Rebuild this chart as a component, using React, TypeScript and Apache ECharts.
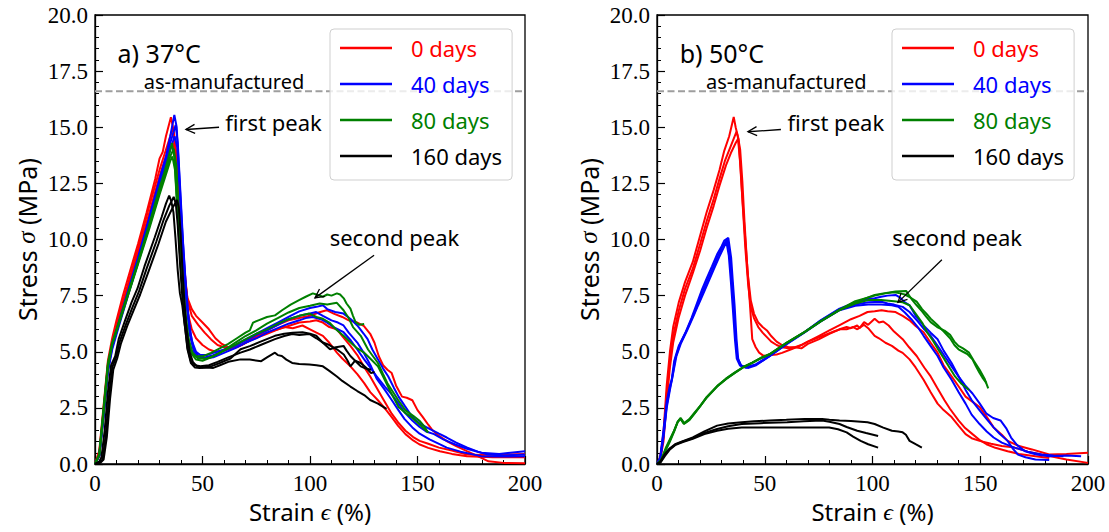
import React, { useEffect, useRef } from "react";
import * as echarts from "echarts";

// ---------- data ----------
const GROUPS = ["0 days", "40 days", "80 days", "160 days"];
const GROUP_COLORS = ["#ff0000", "#0000ff", "#008000", "#000000"];
const PANEL_LABELS = ["a) 37°C", "b) 50°C"];
const AS_MANUFACTURED = 16.6;
const X_MIN = 0;
const X_MAX = 200;
const X_INTERVAL = 50;
const Y_MIN = 0;
const Y_MAX = 20;
const Y_INTERVAL = 2.5;

// 37 °C panel
const RED_37_A = [[0,0],[2,0.6],[4,2.6],[6,4.6],[8,5.6],[10,6.4],[13,7.5],[16,8.5],[20,9.8],[24,11.2],[28,12.7],[30,13.6],[31.5,13.9],[33,14.6],[35.3,15.45],[36.5,14.9],[37.5,13.5],[39,11.2],[41,8.9],[43,7.4],[45,6.9],[47,6.6],[50,6.3],[53,6.0],[56,5.6],[59,5.35],[62,5.2],[66,5.2],[70,5.4],[75,5.7],[80,5.95],[85,6.2],[90,6.4],[95,6.5],[100,6.6],[104,6.75],[107.7,6.85],[111,6.7],[115,6.55],[118,6.4],[122,6.3],[125,6.15],[128,5.8],[130,5.4],[132,4.8],[134,4.4],[136,4.2],[138,4.05],[140,3.5],[142.8,3.0],[145,2.95],[147.6,2.84],[150,2.4],[152.4,2.1],[155,1.75],[157,1.5],[160,1.25],[164,1.0],[168,0.8],[173,0.57],[178,0.35],[183,0.12],[190,0.05],[200,0.03]];
const RED_37_B = [[0,0],[2,0.5],[4,2.4],[6,4.4],[8,5.4],[11,6.6],[15,7.9],[20,9.6],[25,11.4],[30,13.1],[33,14.0],[35,14.6],[36.3,15.0],[37.5,14.2],[39,12.0],[41,9.3],[43,7.3],[45,6.6],[48,6.2],[51,5.85],[54,5.55],[57,5.3],[60,5.2],[64,5.2],[68,5.3],[72,5.5],[76,5.7],[80,5.85],[85,6.0],[90,6.15],[95,6.3],[100,6.35],[102.9,6.4],[106,6.3],[109,6.1],[112.5,6.0],[115,5.7],[118.8,5.26],[122,4.85],[125,4.35],[128,3.9],[131.6,3.3],[134,2.9],[138,2.24],[141,1.85],[144.4,1.48],[148,1.2],[151,1.03],[155,0.9],[160,0.73],[166,0.6],[173,0.42],[180,0.4],[190,0.42],[200,0.45]];
const RED_37_C = [[0,0],[2,0.4],[4,2.2],[6,4.2],[8,5.3],[11,6.4],[15,7.7],[20,9.4],[25,11.1],[30,12.8],[33,13.7],[35,14.1],[36.5,14.3],[37.5,13.6],[39,11.5],[41,8.8],[43,6.8],[45,6.0],[47,5.6],[50,5.3],[53,5.1],[56,5.0],[60,5.05],[64,5.15],[68,5.3],[72,5.5],[76,5.65],[80,5.8],[84,5.95],[88,6.1],[92,6.05],[96.5,6.17],[100,6.0],[103,5.85],[106,5.71],[109,5.4],[112.5,4.96],[115,4.7],[118.8,4.35],[122,4.0],[125.2,3.6],[128,3.2],[131.6,2.84],[135,2.45],[138,2.09],[141,1.7],[144.4,1.33],[148,1.05],[150.8,0.88],[155,0.72],[160.4,0.57],[166,0.45],[173,0.35],[185,0.3],[200,0.3]];
const BLUE_37_A = [[0,0],[2,0.4],[4,2.3],[6,4.3],[8,5.3],[11,6.3],[15,7.6],[20,9.2],[25,10.9],[30,12.7],[33,13.7],[35,14.6],[36.9,15.55],[38,15.0],[39,13.2],[40.5,10.5],[42,8.2],[43.5,6.5],[45,5.5],[47,5.0],[49,4.85],[52,4.85],[55,4.95],[60,5.1],[65,5.3],[70,5.55],[75,5.8],[80,6.05],[85,6.3],[90,6.55],[95,6.8],[100,6.95],[103,7.0],[106,7.07],[108,6.9],[111.7,6.77],[115.6,6.7],[119,6.45],[122,6.17],[125,5.8],[126.8,5.56],[129,5.1],[131.6,4.66],[134,4.25],[136.4,3.9],[139,3.4],[141.2,3.0],[144,2.6],[147.6,2.09],[151,1.8],[155.6,1.56],[160,1.35],[163.6,1.18],[168,0.95],[173.2,0.73],[178,0.55],[182.7,0.42],[190,0.38],[200,0.42]];
const BLUE_37_B = [[0,0],[2,0.35],[4,2.2],[6,4.2],[8,5.2],[11,6.2],[15,7.5],[20,9.1],[25,10.8],[30,12.5],[33,13.5],[35,14.3],[37.5,15.1],[38.5,14.3],[39.5,12.5],[41,9.8],[42.5,7.6],[44,6.0],[46,5.1],[48,4.8],[51,4.75],[55,4.85],[60,5.05],[65,5.25],[70,5.5],[75,5.75],[80,5.95],[85,6.2],[90,6.45],[95,6.6],[100,6.7],[102.9,6.77],[106,6.6],[110,6.4],[113,6.3],[115.6,6.17],[118,5.85],[122,5.41],[125,4.95],[128.4,4.35],[131,3.8],[134.8,3.3],[138,2.85],[141.2,2.39],[144,2.0],[147.6,1.63],[151,1.35],[155.6,1.1],[160,0.9],[163.6,0.73],[170,0.55],[179.6,0.35],[190,0.33],[200,0.35]];
const BLUE_37_C = [[0,0],[2,0.35],[4,2.1],[6,4.1],[8,5.1],[11,6.1],[15,7.4],[20,9.0],[25,10.6],[30,12.3],[33,13.3],[35,14.0],[37,14.6],[38.3,14.1],[39.5,12.0],[41,9.3],[42.5,7.2],[44,5.8],[46,5.0],[48,4.75],[51,4.7],[55,4.75],[60,4.95],[65,5.15],[70,5.4],[75,5.6],[80,5.85],[85,6.05],[90,6.25],[95,6.4],[98,6.5],[101.3,6.55],[105,6.45],[108,6.3],[111,6.1],[115.6,5.87],[119,5.5],[122,5.1],[125.2,4.66],[128,4.3],[131,3.9],[134.8,3.45],[138,3.1],[141.2,2.69],[144,2.3],[147.6,1.94],[151,1.65],[154,1.45],[157.7,1.33],[162,1.1],[167.3,0.88],[173,0.68],[179.6,0.5],[188,0.45],[200,0.57]];
const GREEN_37_A = [[0,0],[2,0.45],[4,2.5],[6,4.5],[8,5.4],[11,6.3],[15,7.5],[20,9.0],[25,10.6],[30,12.3],[32,12.9],[34,13.6],[35.8,14.3],[37,13.6],[38.2,11.6],[39.5,9.4],[40.6,7.8],[42,6.5],[43,5.6],[45,5.0],[47,4.8],[50.2,4.8],[54,4.95],[58,5.15],[62,5.35],[66,5.6],[70,5.85],[72,5.95],[73.5,6.3],[76,6.4],[80,6.55],[83.7,6.62],[87,6.85],[91,7.1],[94.9,7.3],[98,7.45],[101.3,7.6],[103,7.55],[106,7.45],[108,7.55],[110,7.5],[112.5,7.6],[114,7.55],[115.7,7.38],[117,7.15],[118.8,6.92],[120,6.6],[121.2,6.32],[123,6.2],[125.2,6.24]];
const GREEN_37_B = [[0,0],[2,0.4],[4,2.3],[6,4.3],[8,5.3],[11,6.2],[15,7.4],[20,8.9],[25,10.4],[30,12.0],[33,12.9],[35,13.5],[36,13.7],[37.2,13.1],[38.5,11.0],[40,8.6],[41.5,6.8],[43,5.6],[45,4.9],[47,4.65],[50,4.6],[54,4.75],[58,4.95],[62,5.2],[66,5.45],[70,5.7],[75,5.95],[80,6.25],[85,6.5],[90,6.75],[95,6.95],[100,7.05],[104.5,7.15],[108,7.1],[112.5,7.18],[115.6,6.85],[118,6.5],[120,6.1],[123.6,5.71],[127,5.1],[131.6,4.5],[134,4.0],[136,3.6],[138,3.3],[141,2.85],[144.4,2.39],[148,2.15],[150.8,1.94],[153,1.7],[154.8,1.41]];
const GREEN_37_C = [[0,0],[2,0.4],[4,2.4],[6,4.4],[8,5.35],[11,6.25],[15,7.45],[20,8.95],[25,10.5],[30,12.1],[33,13.1],[35,13.7],[36.6,14.05],[37.8,13.3],[39,11.2],[40.5,8.7],[42,6.8],[43.5,5.6],[45.5,4.9],[48,4.7],[52,4.7],[56,4.85],[60,5.05],[65,5.3],[70,5.55],[75,5.8],[80,6.0],[85,6.25],[90,6.45],[95,6.6],[99.7,6.7],[103,6.55],[106,6.47],[109,6.3],[112,6.0],[115.6,5.71],[119,5.4],[122,5.15],[125.2,4.96],[128,4.7],[131.6,4.35],[134,3.9],[137,3.3],[141.2,2.54],[144,2.3],[147,2.1],[150,1.85],[152.4,1.63],[155,1.4]];
const BLACK_37_A = [[0,0],[2,0.1],[3,0.3],[4.5,1.5],[6,3.2],[7.5,4.4],[9.4,4.8],[11,5.56],[14,6.4],[17,7.2],[19.8,7.83],[23,8.8],[27.8,10.1],[31,11.0],[33,11.6],[34.5,11.96],[35.5,11.7],[36.5,11.2],[37.4,10.1],[38.5,8.6],[39.5,7.6],[40.6,7.07],[42,6.0],[43,5.11],[44.6,4.5],[46.5,4.3],[48.6,4.28],[52,4.3],[55,4.28],[58.1,4.4],[62,4.55],[67.7,4.66],[72,4.65],[77.3,4.58],[80,4.75],[83.7,4.96],[85,4.85],[86.9,4.81],[89,4.65],[91.7,4.5],[95,4.45],[99.7,4.43],[103,4.4],[106,4.35],[109,4.15],[112.5,3.9],[115,3.7],[118.8,3.45],[122,3.25],[125.2,3.07],[128,2.85],[131.6,2.69],[135.6,2.46]];
const BLACK_37_B = [[0,0],[2,0.05],[3.5,0.2],[5,1.3],[6.5,3.0],[8,4.3],[9.8,4.75],[11.5,5.45],[14.5,6.25],[17.5,7.0],[20.5,7.7],[24,8.7],[28.5,9.9],[32,10.9],[34.5,11.5],[36.6,11.9],[37.6,11.6],[38.5,10.6],[39.5,9.0],[40.5,7.6],[41.5,6.4],[43,5.2],[44.5,4.6],[46.5,4.4],[49,4.35],[53,4.4],[57,4.55],[62,4.75],[67.7,4.96],[72,5.1],[77,5.3],[83.7,5.56],[88,5.7],[91.7,5.79],[95,5.75],[99.7,5.79],[103,5.6],[106,5.41],[109,5.3],[112.5,5.11],[115.7,4.88],[117.5,4.6],[118.8,4.35],[121,4.6],[123.6,4.5],[126,4.3],[128.4,4.05],[130,4.1]];
const BLACK_37_C = [[0,0],[2.5,0.05],[4,0.2],[5.5,1.2],[7,2.9],[8.5,4.2],[10.3,4.7],[12,5.35],[15,6.15],[18,6.85],[21,7.55],[25,8.6],[29.5,9.8],[33,10.8],[36,11.4],[38.2,11.76],[39,11.4],[39.8,10.3],[40.6,8.8],[41.5,7.3],[42.5,6.1],[44,5.0],[45.5,4.55],[47.5,4.35],[50,4.3],[54,4.35],[58,4.5],[63,4.7],[67.7,5.11],[72,5.25],[77,5.45],[83.7,5.71],[88,5.8],[92,5.85],[96.5,5.87],[100,5.8],[102.9,5.71],[106,5.4],[109.3,5.11],[112,5.2],[115.6,5.26],[117,5.05],[118.8,4.81],[121,4.6],[123.6,4.35],[126,4.25],[128.4,4.2]];

// 50 °C panel
const RED_50_A = [[0,0],[1.5,0.3],[3,1.4],[4.5,3.5],[6,5.0],[7.5,6.1],[10.1,7.2],[13,8.1],[16.6,9.0],[19.8,10.1],[23,11.2],[26.3,12.2],[29,13.1],[31.2,13.95],[33.5,14.6],[35.6,15.46],[36.5,15.0],[37.5,14.6],[38.5,13.5],[39.5,12.0],[40.9,10.1],[42.2,8.4],[43.5,7.3],[45,6.7],[47,6.3],[49,6.1],[51,5.95],[53,5.7],[55.5,5.45],[58,5.3],[61,5.2],[64,5.2],[67,5.15],[70,5.35],[75,5.55],[80,5.8],[84.7,6.0],[88,6.1],[90,6.05],[92.9,6.17],[94,6.05],[96.1,6.32],[98,6.2],[101,6.47],[103,6.3],[105,6.35],[107.5,6.17],[110,5.9],[114,5.56],[117,5.2],[120.5,4.81],[124,4.3],[127,3.9],[130,3.4],[133.4,2.84],[136,2.45],[139.9,1.94],[143,1.6],[146.4,1.33],[150,1.05],[152.9,0.88],[157,0.72],[162.7,0.57],[168,0.45],[175.6,0.35],[182,0.27]];
const RED_50_B = [[0,0],[1.5,0.25],[3,1.2],[4.5,3.1],[6,4.6],[7.5,5.7],[10,6.8],[13,7.8],[16.6,8.7],[20,9.8],[23,10.8],[26.3,11.8],[29,12.7],[31.5,13.5],[34,14.1],[36.9,14.8],[37.8,14.5],[38.8,13.2],[39.8,11.5],[41,9.6],[42.3,8.0],[43.5,7.0],[45,6.5],[47,6.1],[49,5.85],[51,5.65],[53,5.45],[55.5,5.3],[58,5.2],[61,5.15],[64,5.2],[67,5.3],[70,5.45],[74,5.6],[78,5.75],[82,5.9],[85,6.0],[88,6.0],[91,6.1],[93,6.0],[96,6.2],[98,6.05],[101,5.71],[103,5.6],[106,5.4],[109,5.26],[112,5.05],[114,4.95],[117.2,4.66],[120,4.3],[123.7,3.75],[127,3.2],[130.2,2.69],[133,2.4],[136.7,2.09],[140,1.7],[143.2,1.33],[146,1.15],[149.7,1.03],[155,0.9],[160,0.8],[165.9,0.73],[172,0.55],[178,0.42],[182.1,0.35],[190,0.2],[200,0.05]];
const RED_50_C = [[0,0],[1.5,0.2],[3,1.0],[4.5,2.8],[6,4.3],[7.5,5.4],[10,6.5],[13,7.5],[16.6,8.5],[20,9.5],[23,10.5],[26.3,11.5],[29,12.4],[32,13.3],[34.5,13.9],[36.5,14.3],[37.7,14.5],[38.6,14.0],[39.6,12.6],[40.6,10.8],[41.8,8.9],[43,7.3],[44.2,5.56],[45.8,5.2],[47.4,4.96],[49,4.85],[50.6,4.81],[53,4.85],[55.5,4.88],[58,4.95],[62,5.1],[66,5.25],[70,5.45],[75,5.7],[80,5.95],[85,6.2],[90,6.45],[94,6.6],[97.7,6.77],[101,6.8],[104.2,6.85],[107,6.8],[110.7,6.77],[114,6.6],[117.2,6.4],[120,6.15],[123.7,5.87],[127,5.4],[130.2,4.96],[133,4.4],[136.7,3.9],[140,3.45],[143.2,3.0],[146,2.8],[149.7,2.54],[153,2.1],[156.2,1.63],[160,1.3],[162.7,1.03],[168,0.8],[174,0.65],[182,0.42],[190,0.45],[200,0.5]];
const BLUE_50_A = [[0,0],[1.5,0.3],[3,1.5],[4.5,2.8],[6,3.5],[6.8,3.75],[8,4.6],[10.1,5.26],[13.3,5.87],[16,6.5],[18.2,7.07],[21,7.8],[23.1,8.28],[25.5,8.8],[27.9,9.34],[30,9.7],[31.2,9.95],[33.1,10.07],[34.4,9.19],[35.2,8.1],[36,7.07],[36.9,5.56],[37.7,4.66],[39.3,4.35],[42.5,4.28],[46,4.4],[52.3,4.81],[60,5.35],[68.5,5.87],[76,6.4],[84.7,6.92],[92,7.2],[98,7.35],[101,7.38],[104,7.45],[107,7.5],[110.7,7.53],[113,7.4],[115,7.2],[117.2,7.07],[120,6.6],[123.7,6.17],[127,5.85],[130.2,5.56],[133,5.05],[136.7,4.5],[140,3.9],[143.2,3.3],[146,2.85],[149.7,2.39],[153,2.0],[156.2,1.63],[159,1.35],[162.7,1.03],[165,0.7],[167.5,0.42],[171,0.3],[175.6,0.2],[182,0.18]];
const BLUE_50_B = [[0,0],[1.5,0.25],[3,1.3],[4.5,2.6],[6,3.4],[7,3.8],[8.5,4.7],[10.5,5.3],[13.5,5.9],[16.5,6.55],[18.5,7.0],[21.5,7.75],[23.5,8.2],[26,8.75],[28.5,9.3],[30.5,9.7],[32.5,10.0],[33.6,9.5],[34.6,8.4],[35.5,7.2],[36.4,5.8],[37.2,4.8],[38.8,4.4],[41.5,4.3],[46,4.45],[52.3,4.82],[60,5.35],[68.5,5.88],[76,6.4],[84.7,6.9],[92,7.1],[98,7.2],[104.2,7.23],[107,7.15],[110,7.1],[114,7.0],[117.2,6.77],[121,6.35],[124,6.0],[127,5.71],[130,5.3],[133.4,4.81],[136.7,4.35],[139.9,3.9],[143,3.5],[146.4,3.14],[149.7,2.7],[152.9,2.24],[156,2.05],[159.4,1.94],[162,1.6],[164.3,1.18],[167,0.85],[170.8,0.57],[176,0.42],[182,0.35],[190,0.38],[196.8,0.35]];
const BLUE_50_C = [[0,0],[1.5,0.2],[3,1.2],[4.5,2.5],[6,3.3],[7.2,3.9],[9,4.8],[11,5.35],[14,5.95],[17,6.6],[19,7.05],[22,7.7],[24,8.15],[26.5,8.7],[29,9.25],[31,9.65],[32.2,9.9],[33.3,9.3],[34.3,8.1],[35.2,6.9],[36.2,5.5],[37,4.7],[38.5,4.38],[41,4.3],[46,4.42],[52.3,4.8],[60,5.33],[68.5,5.86],[76,6.35],[84.7,6.85],[92,7.05],[98,7.1],[104,7.1],[109,7.07],[112,7.0],[115,6.75],[118,6.45],[121,6.1],[123.7,5.71],[127,5.25],[130.2,4.81],[133,4.3],[136.7,3.75],[140,3.2],[143.2,2.69],[146,2.2],[149.7,1.78],[153,1.45],[156.2,1.18],[160,0.95],[165.9,0.73],[172,0.55],[178.6,0.42],[184,0.38],[188.6,0.35]];
const GREEN_50_A = [[0,0],[2,0.2],[4,0.7],[6,1.1],[8,1.5],[9.5,1.85],[10.9,2.01],[12.5,1.78],[15,1.95],[17.5,2.25],[19.8,2.54],[23,2.95],[27.9,3.45],[32,3.78],[36,4.05],[40,4.3],[44.2,4.5],[48,4.7],[52.3,4.88],[60,5.38],[68.5,5.87],[76,6.35],[84.7,6.85],[92,7.2],[101,7.53],[105,7.6],[110.7,7.68],[113,7.7],[115.6,7.71],[117,7.5],[118.5,7.3],[120.5,7.07],[123,6.8],[125,6.55],[127,6.32],[130,6.1],[133.4,5.94],[136,5.75],[138,5.45],[139.9,5.26],[142,5.15],[144.8,4.96],[147,4.6],[149.7,4.2],[152,3.8],[153.7,3.37]];
const GREEN_50_B = [[0,0],[2,0.15],[4,0.6],[6,1.0],[8,1.45],[9.7,1.9],[11,2.05],[12.6,1.82],[15,2.0],[17.5,2.3],[20,2.58],[23,2.98],[28,3.48],[32,3.8],[36,4.07],[40,4.32],[44.2,4.52],[48,4.72],[52.3,4.9],[60,5.4],[68.5,5.89],[76,6.37],[84.7,6.88],[92,7.25],[101,7.5],[106,7.6],[110,7.65],[113,7.6],[115,7.55],[117,7.45],[120.5,7.23],[123,6.9],[125,6.7],[127,6.47],[130,6.2],[133.4,5.87],[136,5.6],[138,5.3],[139.9,5.11],[142,5.0],[144,4.9],[146.4,4.66],[148,4.35],[149.7,4.05],[151,3.85],[152.9,3.6]];
const GREEN_50_C = [[0,0],[2,0.18],[4,0.65],[6,1.05],[8,1.5],[9.6,1.88],[10.9,2.03],[12.5,1.8],[15,1.97],[17.5,2.27],[19.8,2.56],[23,2.96],[27.9,3.46],[32,3.79],[36,4.06],[40,4.31],[44.2,4.51],[48,4.71],[52.3,4.89],[60,5.39],[68.5,5.88],[76,6.36],[84.7,6.86],[92,7.15],[98,7.3],[104,7.3],[110,7.25],[114,7.2],[117.2,7.07],[120,6.7],[123,6.3],[125.3,5.87],[128,5.5],[130.5,5.1],[133.4,4.66],[136,4.25],[138.3,3.9],[141,3.6],[144.8,3.3]];
const BLACK_50_A = [[0,0],[1.5,0.1],[3.6,0.45],[6,0.7],[8.4,0.88],[12,1.02],[16.6,1.18],[22,1.45],[27.9,1.71],[33,1.8],[39.3,1.86],[45,1.9],[52.3,1.94],[60,1.97],[68.5,2.01],[76.6,2.01],[80,1.97],[84.7,1.94],[90,1.92],[97.7,1.86],[101,1.78],[105,1.62],[109,1.48],[112,1.45],[114,1.41],[115.5,1.3],[117.2,1.03],[120,0.88],[122.9,0.73]];
const BLACK_50_B = [[0,0],[1.5,0.08],[3.6,0.4],[6,0.68],[8.4,0.86],[12,1.0],[16.6,1.15],[22,1.38],[27.9,1.56],[33,1.68],[39.3,1.78],[48,1.82],[60.4,1.86],[68,1.9],[76.6,1.94],[80,1.88],[84.7,1.78],[88,1.65],[92.9,1.48],[97,1.38],[102.6,1.25]];
const BLACK_50_C = [[0,0],[1.5,0.05],[3.6,0.35],[6,0.65],[8.4,0.84],[12,0.98],[16.6,1.12],[22,1.33],[27.9,1.48],[33,1.57],[39.3,1.63],[50,1.63],[60.4,1.63],[70,1.63],[79.9,1.63],[84,1.55],[88,1.41],[91,1.22],[94.5,1.03],[98,0.88],[102.6,0.73]];

const PANEL_CURVES = [
  [
    [RED_37_A, RED_37_B, RED_37_C],
    [BLUE_37_A, BLUE_37_B, BLUE_37_C],
    [GREEN_37_A, GREEN_37_B, GREEN_37_C],
    [BLACK_37_A, BLACK_37_B, BLACK_37_C],
  ],
  [
    [RED_50_A, RED_50_B, RED_50_C],
    [BLUE_50_A, BLUE_50_B, BLUE_50_C],
    [GREEN_50_A, GREEN_50_B, GREEN_50_C],
    [BLACK_50_A, BLACK_50_B, BLACK_50_C],
  ],
];

// annotation anchors in data coordinates [x, y]
const FIRST_PEAK_ARROWS = [
  [[57.7, 15.0], [42.3, 14.9]],
  [[57.5, 14.9], [42.2, 14.8]],
];
const SECOND_PEAK_ARROWS = [
  [[129.8, 9.3], [102.3, 7.4]],
  [[132.2, 9.1], [111.8, 7.2]],
];

const SANS = '"Noto Sans", "DejaVu Sans", sans-serif';
const SERIF = '"Liberation Serif", "DejaVu Serif", serif';

const GRIDS = [
  { left: 95, top: 15, width: 430, height: 449 },
  { left: 657, top: 15, width: 431, height: 449 },
];
const LEGEND_LEFT = [330, 892];

export default function App() {
  const ref = useRef<HTMLDivElement>(null);

  useEffect(() => {
    if (!ref.current) return;
    const chart = echarts.init(ref.current, null, { renderer: "svg" });

    const xAxes = GRIDS.map((_, i) => ({
      type: "value",
      gridIndex: i,
      min: X_MIN,
      max: X_MAX,
      interval: X_INTERVAL,
      name: "Strain {i|ϵ} (%)",
      nameLocation: "middle",
      nameGap: 31,
      nameTextStyle: {
        fontFamily: SANS,
        fontSize: 24,
        color: "#000",
        rich: { i: { fontFamily: SERIF, fontStyle: "italic", fontSize: 24, color: "#000" } },
      },
      axisLine: { show: true, lineStyle: { color: "#000", width: 1.3 } },
      axisTick: { show: true, inside: true, length: 8, lineStyle: { color: "#000", width: 1.2 } },
      minorTick: { show: true, splitNumber: 5, length: 4, lineStyle: { color: "#000", width: 1 } },
      splitLine: { show: false },
      axisLabel: { fontFamily: SERIF, fontSize: 23, color: "#000", margin: 8 },
    }));

    const yAxes = GRIDS.map((_, i) => ({
      type: "value",
      gridIndex: i,
      min: Y_MIN,
      max: Y_MAX,
      interval: Y_INTERVAL,
      name: "Stress {i|σ} (MPa)",
      nameLocation: "middle",
      nameGap: 56,
      nameTextStyle: {
        fontFamily: SANS,
        fontSize: 25,
        color: "#000",
        rich: { i: { fontFamily: SERIF, fontStyle: "italic", fontSize: 25, color: "#000" } },
      },
      axisLine: { show: true, lineStyle: { color: "#000", width: 1.3 } },
      axisTick: { show: true, inside: true, length: 8, lineStyle: { color: "#000", width: 1.2 } },
      minorTick: { show: true, splitNumber: 5, length: 4, lineStyle: { color: "#000", width: 1 } },
      splitLine: { show: false },
      axisLabel: {
        fontFamily: SERIF,
        fontSize: 23,
        color: "#000",
        margin: 7,
        formatter: (v: number) => v.toFixed(1),
      },
    }));

    const series: any[] = [];
    GRIDS.forEach((_, p) => {
      series.push({
        type: "line",
        name: "as-manufactured",
        xAxisIndex: p,
        yAxisIndex: p,
        data: [[X_MIN, AS_MANUFACTURED], [X_MAX, AS_MANUFACTURED]],
        showSymbol: false,
        symbol: "none",
        silent: true,
        lineStyle: { color: "#9e9e9e", width: 2, type: [7, 3.5] },
        z: 1,
      });
      PANEL_CURVES[p].forEach((curves, g) => {
        curves.forEach((curve) => {
          series.push({
            type: "line",
            name: GROUPS[g],
            xAxisIndex: p,
            yAxisIndex: p,
            data: curve,
            showSymbol: false,
            symbol: "none",
            lineStyle: { color: GROUP_COLORS[g], width: 2 },
            itemStyle: { color: GROUP_COLORS[g] },
            z: 2 + g,
          });
        });
      });
    });

    const legends = LEGEND_LEFT.map((left) => ({
      orient: "vertical",
      left,
      top: 29,
      icon: "rect",
      itemWidth: 52,
      itemHeight: 2.5,
      itemGap: 12,
      padding: [7, 10, 12, 10],
      borderColor: "#cfcfcf",
      borderWidth: 1,
      borderRadius: 4,
      backgroundColor: "rgba(255,255,255,0.8)",
      selectedMode: false,
      textStyle: { fontFamily: SANS, fontSize: 22, lineHeight: 24, padding: [0, 0, 0, 14], color: "#000" },
      data: GROUPS.map((g, i) => ({ name: g, textStyle: { color: GROUP_COLORS[i] } })),
    }));

    chart.setOption({
      animation: false,
      backgroundColor: "#fff",
      grid: GRIDS.map((g) => ({ ...g, show: true, borderColor: "#000", borderWidth: 1.3, backgroundColor: "transparent" })),
      xAxis: xAxes,
      yAxis: yAxes,
      legend: legends,
      series,
    });

    const graphics: any[] = [];
    const toPx = (p: number, pt: number[]) => chart.convertToPixel({ gridIndex: p } as any, pt) as number[];
    const arrow = (p: number, tail: number[], head: number[]) => {
      const t = toPx(p, tail);
      const h = toPx(p, head);
      const dx = h[0] - t[0];
      const dy = h[1] - t[1];
      const len = Math.sqrt(dx * dx + dy * dy);
      const ux = dx / len;
      const uy = dy / len;
      const L = 10;
      const a = (27 * Math.PI) / 180;
      const rot = (ang: number) => [ux * Math.cos(ang) - uy * Math.sin(ang), ux * Math.sin(ang) + uy * Math.cos(ang)];
      const r1 = rot(a);
      const r2 = rot(-a);
      graphics.push({
        type: "line",
        shape: { x1: t[0], y1: t[1], x2: h[0], y2: h[1] },
        style: { stroke: "#000", lineWidth: 1.3 },
        z: 100,
      });
      graphics.push({
        type: "polyline",
        shape: { points: [[h[0] - L * r1[0], h[1] - L * r1[1]], [h[0], h[1]], [h[0] - L * r2[0], h[1] - L * r2[1]]] },
        style: { stroke: "#000", lineWidth: 1.3, fill: "none" },
        z: 100,
      });
    };
    const text = (p: number, pt: number[], s: string, size: number, align: string) => {
      const q = toPx(p, pt);
      graphics.push({
        type: "text",
        x: q[0],
        y: q[1],
        z: 100,
        style: {
          text: s,
          fontFamily: SANS,
          fontSize: size,
          fill: "#000",
          align,
          verticalAlign: "middle",
          textAlign: align,
          textVerticalAlign: "middle",
        },
      });
    };

    GRIDS.forEach((_, p) => {
      text(p, [10.5, 18.3], PANEL_LABELS[p], 25, "left");
      text(p, [60, 17.05], "as-manufactured", 20, "center");
      text(p, [60.6, 15.25], "first peak", 22, "left");
      text(p, [139.3, 10.1], "second peak", 22, "center");
      arrow(p, FIRST_PEAK_ARROWS[p][0], FIRST_PEAK_ARROWS[p][1]);
      arrow(p, SECOND_PEAK_ARROWS[p][0], SECOND_PEAK_ARROWS[p][1]);
    });

    chart.setOption({ graphic: graphics });

    return () => chart.dispose();
  }, []);

  return (
    <div
      ref={ref}
      style={{ position: "fixed", left: 0, top: 0, width: 1109, height: 532, background: "#fff" }}
    />
  );
}
